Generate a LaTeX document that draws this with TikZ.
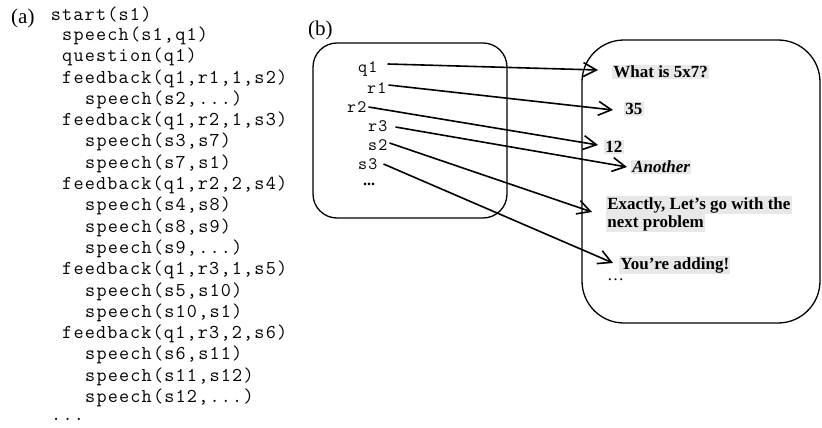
\documentclass[tikz,border=0pt]{standalone}
\usepackage{fontspec}
\setmainfont{Liberation Serif}
\newfontfamily\codefont{Latin Modern Mono}[LetterSpace=6.2]
\usetikzlibrary{arrows.meta}
\begin{document}
\begin{tikzpicture}[x=1pt,y=-1pt,
  code/.style={anchor=west,inner sep=0pt,font=\fontsize{19.6}{21}\codefont},
  lbl/.style={anchor=west,inner sep=0pt,font=\fontsize{17.5}{19}\codefont},
  panel/.style={anchor=west,inner sep=0pt,font=\fontsize{21}{24}\selectfont},
  hl/.style={anchor=west,fill=gray!18,inner sep=1.2pt,font=\fontsize{17}{19}\bfseries},
  frame/.style={draw,line width=1.3pt},
  link/.style={line width=1.6pt,-{Straight Barb[length=13pt,width=14pt,line width=1.6pt]}}]
\path[use as bounding box,fill=white] (0,0) rectangle (822,428);
% (a)
\node[panel] (pa) at (11,18) {(a)};
\node[code] (c0) at (50.6,14.5) {start(s1)};
\node[code] (c1) at (62,35.8) {speech(s1,q1)};
\node[code] (c2) at (62,57.1) {question(q1)};
\node[code] (c3) at (62,78.4) {feedback(q1,r1,1,s2)};
\node[code] (c4) at (85,99.7) {speech(s2,...)};
\node[code] (c5) at (62,121) {feedback(q1,r2,1,s3)};
\node[code] (c6) at (85,142.3) {speech(s3,s7)};
\node[code] (c7) at (85,163.6) {speech(s7,s1)};
\node[code] (c8) at (62,184.9) {feedback(q1,r2,2,s4)};
\node[code] (c9) at (85,206.2) {speech(s4,s8)};
\node[code] (c10) at (85,227.5) {speech(s8,s9)};
\node[code] (c11) at (85,248.8) {speech(s9,...)};
\node[code] (c12) at (62,270.1) {feedback(q1,r3,1,s5)};
\node[code] (c13) at (85,291.4) {speech(s5,s10)};
\node[code] (c14) at (85,312.7) {speech(s10,s1)};
\node[code] (c15) at (62,334) {feedback(q1,r3,2,s6)};
\node[code] (c16) at (85,355.3) {speech(s6,s11)};
\node[code] (c17) at (85,376.6) {speech(s11,s12)};
\node[code] (c18) at (85,397.9) {speech(s12,...)};
\node[code] (c19) at (51,419.2) {...};
% (b)
\node[panel] (pb) at (308,30) {(b)};
\draw[frame,rounded corners=24pt] (313,43) rectangle (507,218);
\draw[frame,rounded corners=42pt] (582,40) rectangle (820,323);
\node[lbl] (q1) at (358,69) {q1};
\node[lbl] (r1) at (367,88) {r1};
\node[lbl] (r2) at (347,107) {r2};
\node[lbl] (r3) at (368,126) {r3};
\node[lbl] (s2) at (368,145) {s2};
\node[lbl] (s3) at (358,164) {s3};
\node[anchor=west,inner sep=0pt,font=\fontsize{16}{18}\bfseries] (ld) at (363,184) {...};
% right texts
\node[hl] (t1) at (612,72) {What is 5x7?};
\node[hl] (t2) at (624,109) {35};
\node[hl] (t3) at (604,147) {12};
\node[hl,font=\fontsize{17}{19}\bfseries\itshape] (t4) at (631,167) {Another};
\node[hl] (t5) at (606,205) {Exactly, Let’s go with the};
\node[hl] (t6) at (606,223) {next problem};
\node[hl] (t7) at (619,265) {You’re adding!};
\node[anchor=west,inner sep=0pt,font=\fontsize{17}{19}\selectfont] (t8) at (607,280) {\dots};
% connectors
\draw[link] ([xshift=10pt,yshift=5pt]q1.east) -- ([xshift=-14pt,yshift=2pt]t1.west);
\draw[link] ([xshift=2pt,yshift=3pt]r1.east) -- ([xshift=-11pt,yshift=-1pt]t2.west);
\draw[link] ([xshift=2pt]r2.east) -- ([xshift=-6pt,yshift=2pt]t3.west);
\draw[link] ([xshift=8pt,yshift=-1pt]r3.east) -- ([xshift=-4pt]t4.west);
\draw[link] ([xshift=2pt,yshift=2pt]s2.east) -- ([xshift=-14pt,yshift=-7pt]t5.west);
\draw[link] ([xshift=6pt]s3.east) -- ([xshift=-6pt,yshift=2pt]t7.west);
\end{tikzpicture}
\end{document}
